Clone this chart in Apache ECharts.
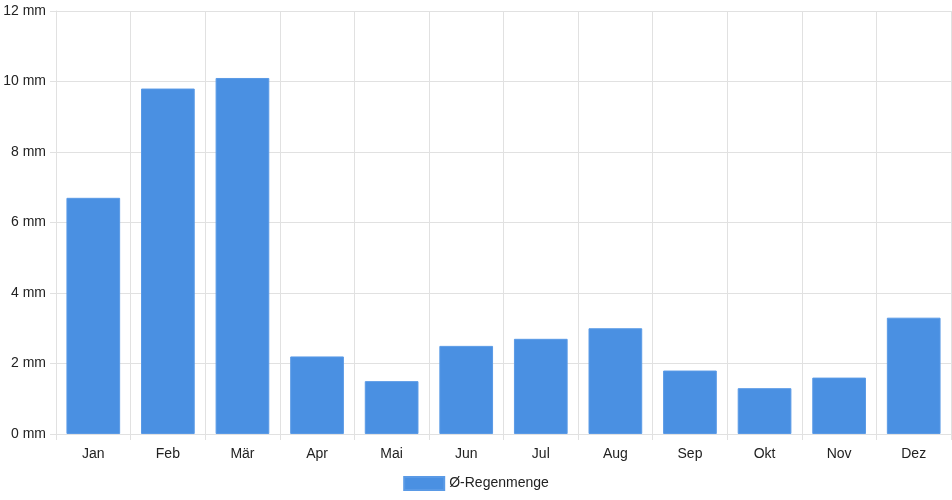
<!DOCTYPE html>
<html>
<head>
<meta charset="utf-8">
<script src="https://cdn.jsdelivr.net/npm/echarts@6/dist/echarts.min.js"></script>
<style>
  html, body { margin: 0; padding: 0; background: #fff; }
  #chart { width: 952px; height: 500px; }
</style>
</head>
<body>
<div id="chart"></div>
<script>
// Monatsnamen und durchschnittliche Regenmenge
const months = ["Jan", "Feb", "Mär", "Apr", "Mai", "Jun", "Jul", "Aug", "Sep", "Okt", "Nov", "Dez"];
const rain = [6.7, 9.8, 10.1, 2.2, 1.5, 2.5, 2.7, 3.0, 1.8, 1.3, 1.6, 3.3];
const seriesName = "Ø-Regenmenge";

const chart = echarts.init(document.getElementById("chart"));

const gridColor = "#e1e1e1";
const textColor = "#222";
const fontFamily = "Helvetica, Arial, 'Liberation Sans', sans-serif";

chart.setOption({
    animation: false,
    textStyle: { fontFamily: fontFamily },
    grid: { left: 56, right: 1, top: 11, bottom: 66 },
    legend: {
        top: 471,
        left: "center",
        itemWidth: 40,
        itemHeight: 13,
        itemGap: 10,
        textStyle: { fontSize: 14, color: textColor, fontFamily: fontFamily },
        data: [{ name: seriesName, icon: "rect" }]
    },
    xAxis: {
        type: "category",
        data: months,
        axisLine: { show: true, lineStyle: { color: gridColor } },
        axisTick: { show: true, length: 6, lineStyle: { color: gridColor } },
        axisLabel: { color: textColor, fontSize: 14, margin: 13 },
        splitLine: { show: true, lineStyle: { color: gridColor } }
    },
    yAxis: {
        type: "value",
        min: 0,
        max: 12,
        interval: 2,
        axisLine: { show: true, lineStyle: { color: gridColor } },
        axisTick: { show: true, length: 6, lineStyle: { color: gridColor } },
        axisLabel: { color: textColor, fontSize: 14, margin: 10, formatter: "{value} mm" },
        splitLine: { show: true, lineStyle: { color: gridColor } }
    },
    series: [{
        name: seriesName,
        type: "bar",
        data: rain,
        barCategoryGap: "28%",
        itemStyle: { color: "#4a90e2", borderColor: "#5a9ae6", borderWidth: 1 }
    }]
});
</script>
</body>
</html>
